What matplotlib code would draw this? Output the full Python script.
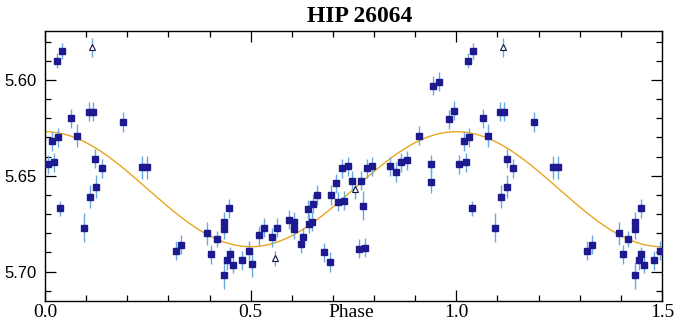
import numpy as np
import matplotlib
matplotlib.use("Agg")
import matplotlib.pyplot as plt
from matplotlib.ticker import MultipleLocator, FixedLocator
import matplotlib.transforms as mtransforms

# Hipparcos photometry folded on the period (phase in [0, 1))
phase = [0.007, 0.018, 0.023, 0.028, 0.032, 0.037, 0.041, 0.064, 0.078, 0.095,
         0.106, 0.109, 0.116, 0.122, 0.123, 0.138, 0.190, 0.236, 0.247, 0.318,
         0.331, 0.395, 0.404, 0.418, 0.434, 0.434, 0.435, 0.443, 0.448, 0.450,
         0.457, 0.480, 0.495, 0.504, 0.520, 0.533, 0.551, 0.565, 0.592, 0.606,
         0.606, 0.622, 0.627, 0.639, 0.642, 0.649, 0.652, 0.662, 0.678, 0.692,
         0.696, 0.708, 0.713, 0.723, 0.728, 0.737, 0.747, 0.764, 0.768, 0.774,
         0.779, 0.782, 0.795, 0.838, 0.853, 0.866, 0.881, 0.909, 0.938, 0.939,
         0.943, 0.957, 0.981, 0.995]
mag = [5.644, 5.632, 5.643, 5.590, 5.630, 5.667, 5.585, 5.620, 5.629, 5.677,
       5.6165, 5.661, 5.6165, 5.641, 5.6556, 5.646, 5.622, 5.6455, 5.6455, 5.689,
       5.686, 5.680, 5.691, 5.683, 5.674, 5.678, 5.702, 5.694, 5.667, 5.691,
       5.6965, 5.694, 5.689, 5.696, 5.681, 5.677, 5.682, 5.677, 5.673, 5.674,
       5.678, 5.6855, 5.682, 5.6675, 5.675, 5.674, 5.6645, 5.660, 5.690, 5.695,
       5.660, 5.654, 5.6635, 5.646, 5.663, 5.645, 5.6525, 5.688, 5.6525, 5.6655,
       5.6875, 5.646, 5.645, 5.645, 5.648, 5.643, 5.642, 5.629, 5.644, 5.653,
       5.603, 5.601, 5.6205, 5.616]
err = [0.005, 0.005, 0.005, 0.004, 0.005, 0.004, 0.004, 0.005, 0.006, 0.0075,
       0.005, 0.006, 0.005, 0.005, 0.006, 0.005, 0.005, 0.006, 0.006, 0.005,
       0.005, 0.006, 0.005, 0.004, 0.005, 0.005, 0.007, 0.005, 0.005, 0.004,
       0.004, 0.005, 0.005, 0.007, 0.005, 0.005, 0.005, 0.005, 0.005, 0.005,
       0.005, 0.005, 0.005, 0.005, 0.005, 0.005, 0.005, 0.005, 0.005, 0.005,
       0.005, 0.005, 0.005, 0.005, 0.005, 0.005, 0.005, 0.005, 0.005, 0.0075,
       0.005, 0.005, 0.005, 0.005, 0.005, 0.005, 0.005, 0.005, 0.005, 0.006,
       0.005, 0.005, 0.005, 0.005]

# open triangles (flagged measurements)
flag_phase = [0.114, 0.558, 0.753]
flag_mag = [5.583, 5.693, 5.657]
flag_err = [0.005, 0.004, 0.005]

# fitted sinusoid
fit_mean = 5.657
fit_amp = 0.030

SQ_COL = "#1c1a8e"
ERR_COL = "#6aa8de"
FIT_COL = "#e8a520"


def unfold(p, m, e):
    # show phase 0..1.5: repeat points whose phase+1 is still in range
    p = np.asarray(p); m = np.asarray(m); e = np.asarray(e)
    sel = p + 1 <= 1.5
    return (np.concatenate([p, p[sel] + 1]),
            np.concatenate([m, m[sel]]),
            np.concatenate([e, e[sel]]))


fig = plt.figure(figsize=(6.84, 3.34), dpi=100)
ax = fig.add_axes([45 / 684, 1 - 301 / 334, 617 / 684, 270 / 334])

xs = np.linspace(0, 1.5, 400)
ax.plot(xs, fit_mean - fit_amp * np.cos(2 * np.pi * xs), color=FIT_COL, lw=1.0, zorder=1)

px, pm, pe = unfold(phase, mag, err)
ax.errorbar(px, pm, yerr=pe, fmt="s", ms=4.6, mfc=SQ_COL, mec=SQ_COL,
            ecolor=ERR_COL, elinewidth=1.0, capsize=0, zorder=3)

fx, fm, fe = unfold(flag_phase, flag_mag, flag_err)
ax.errorbar(fx, fm, yerr=fe, fmt="^", ms=4.5, mfc="white", mec="#111144", mew=0.8,
            ecolor=ERR_COL, elinewidth=1.0, capsize=0, zorder=3)

ax.set_xlim(0, 1.5)
ax.set_ylim(5.7153, 5.5745)

ax.xaxis.set_major_locator(FixedLocator([0.0, 0.5, 1.0, 1.5]))
ax.xaxis.set_minor_locator(MultipleLocator(0.1))
ax.yaxis.set_major_locator(FixedLocator([5.60, 5.65, 5.70]))
ax.yaxis.set_minor_locator(MultipleLocator(0.01))
ax.set_xticklabels(["0.0", "0.5", "1.0", "1.5"], family="Liberation Serif", fontsize=14)
ax.set_yticklabels(["5.60", "5.65", "5.70"], family="Liberation Sans", fontsize=12)

ax.tick_params(which="both", direction="in", top=True, right=True, width=0.9, color="black")
ax.tick_params(which="major", length=8)
ax.tick_params(which="minor", length=4)
ax.tick_params(axis="x", pad=2)
ax.tick_params(axis="y", pad=6)
for s in ax.spines.values():
    s.set_linewidth(1.0)

trans = mtransforms.blended_transform_factory(ax.transData, ax.transAxes)
ax.text(0.745, -0.012, "Phase", transform=trans, ha="center", va="top",
        family="Liberation Serif", fontsize=14)

fig.text(360 / 684, 1 - 16 / 334, "HIP 26064", ha="center", va="center",
         family="Liberation Serif", fontweight="bold", fontsize=17)

fig.savefig("out.png", dpi=100, facecolor="white")
